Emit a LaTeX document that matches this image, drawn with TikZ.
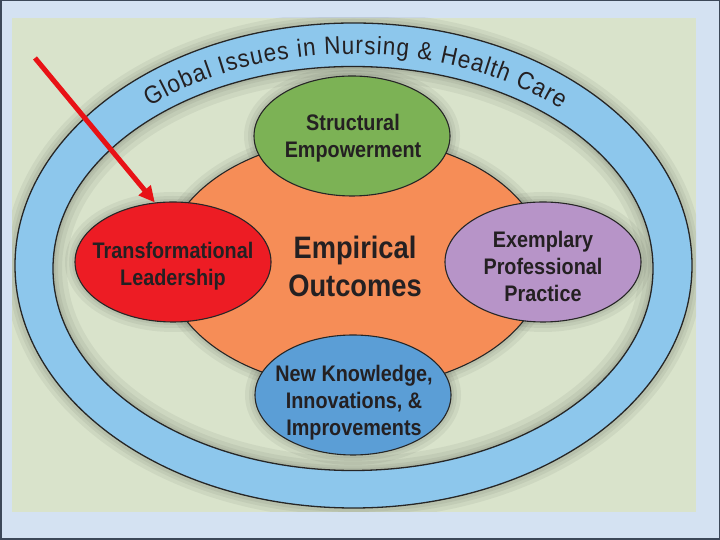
\documentclass[tikz,border=0pt]{standalone}
\usepackage{fontspec}
\usetikzlibrary{shapes.geometric,decorations.text,arrows.meta}
\newfontfamily\condf[FakeStretch=0.88]{Liberation Sans}
\newfontfamily\ringf[FakeStretch=0.9]{Liberation Sans}
\definecolor{bgblue}{RGB}{212,226,242}
\definecolor{frame}{RGB}{60,72,88}
\definecolor{panel}{RGB}{217,227,203}
\definecolor{ringblue}{RGB}{141,199,236}
\definecolor{coreorange}{RGB}{246,141,87}
\definecolor{sgreen}{RGB}{124,178,85}
\definecolor{tred}{RGB}{237,28,36}
\definecolor{epurple}{RGB}{183,148,200}
\definecolor{nblue}{RGB}{91,158,214}
\definecolor{arrowred}{RGB}{232,18,22}
\definecolor{txt}{RGB}{36,32,34}
\begin{document}
\begin{tikzpicture}[x=1pt,y=1pt,
  bubble/.style={ellipse, draw=black!85, line width=1.1pt, minimum width=196pt, minimum height=120pt, inner sep=0pt},
  bubbletext/.style={align=center, text=txt, inner sep=0pt, font=\condf\bfseries\fontsize{22.5}{27}\selectfont},
  halo/.style={line width=#1, draw=black, opacity=0.05}
]
\useasboundingbox (0,0) rectangle (720,540);
\fill[bgblue] (0,0) rectangle (720,540);
\draw[frame, line width=1.5pt] (0.75,0.75) rectangle (719.25,539.25);
\fill[panel] (12,28) rectangle (696,522);

% halo outside the ring
\begin{scope}
  \clip (12,28) rectangle (696,522);
  \foreach \w in {22,14,8}
    \draw[halo=\w pt] (353.5,274.5) ellipse [x radius=338.5, y radius=242.5];
\end{scope}
% ring
\fill[ringblue, even odd rule] (353.5,274.5) ellipse [x radius=338.5, y radius=242.5]
  (353,271.5) ellipse [x radius=300, y radius=202];
\begin{scope}
  \clip (353,271.5) ellipse [x radius=300, y radius=202];
  \foreach \w in {28,18,10,5}
    \draw[halo=\w pt] (353,271.5) ellipse [x radius=300, y radius=202];
\end{scope}
\draw[black!85, line width=1.3pt] (353.5,274.5) ellipse [x radius=338.5, y radius=242.5];
\draw[black!85, line width=1.3pt] (353,271.5) ellipse [x radius=300, y radius=202];

% ring text
\path[decorate, decoration={text along path, text align={fit to path}, text color=txt,
  text={|\ringf\fontsize{25}{25}\selectfont|Global Issues in Nursing {\&} Health Care}}]
  (353,273) ++(131:310 and 213) arc [start angle=131, end angle=48, x radius=310, y radius=213];

% halos around the centre shapes
\foreach \cx/\cy/\rx/\ry in {355/277/190/125, 352/404/98/60, 173/278/98/60, 543/278/98/60, 353/145/98/60}
  \foreach \w in {20,12,6}
    \draw[halo=\w pt] (\cx,\cy) ellipse [x radius=\rx, y radius=\ry];

% shapes
\node[bubble, fill=coreorange, minimum width=380pt, minimum height=250pt] (core) at (355,277) {};
\node[bubble, fill=sgreen] (struct) at (352,404) {};
\node[bubble, fill=tred] (trans) at (173,278) {};
\node[bubble, fill=epurple] (exemp) at (543,278) {};
\node[bubble, fill=nblue] (newk) at (353,145) {};

% texts
\node[bubbletext, font=\condf\bfseries\fontsize{31}{38}\selectfont] (coret) at (355,274) {Empirical\\Outcomes};
\node[bubbletext] (structt) at (353,402) {Structural\\Empowerment};
\node[bubbletext] (transt) at (173,274) {Transformational\\Leadership};
\node[bubbletext] (exempt) at (543,274) {Exemplary\\Professional\\Practice};
\node[bubbletext] (newkt) at (354,137) {New Knowledge,\\Innovations, {\&}\\Improvements};

% arrow
\coordinate (astart) at (35,482);
\draw[arrowred, line width=5pt, -{Triangle[length=16pt,width=15pt]}] (astart) -- (trans.107);
\end{tikzpicture}
\end{document}
